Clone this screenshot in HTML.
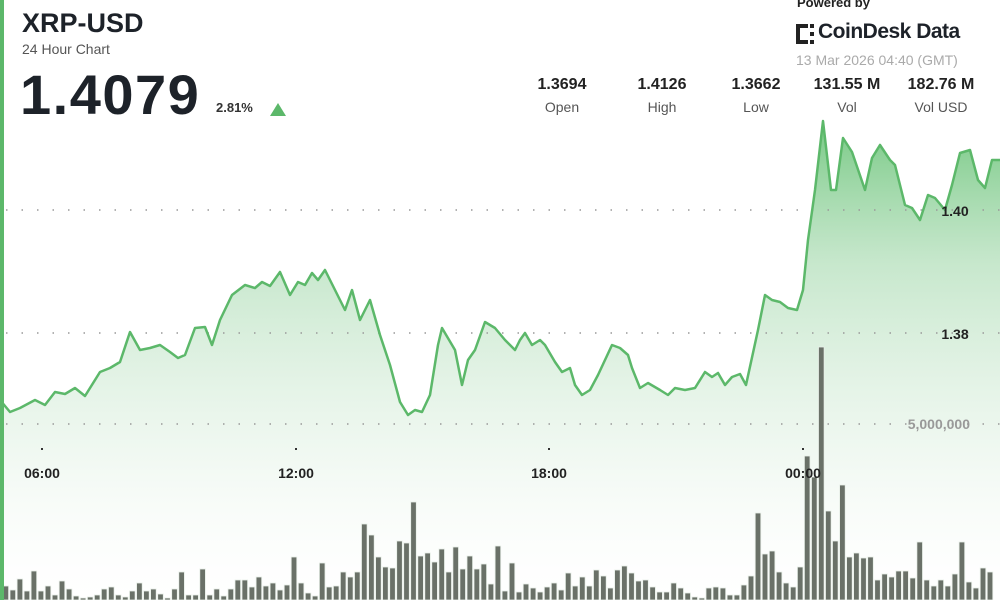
<!DOCTYPE html>
<html><head><meta charset="utf-8"><style>
body{margin:0;width:1000px;height:600px;overflow:hidden;background:#fff;font-family:"Liberation Sans",sans-serif;}
svg{position:absolute;left:0;top:0}
.t{position:absolute;white-space:nowrap}
</style></head><body>
<svg width="1000" height="600" viewBox="0 0 1000 600">
<defs>
<linearGradient id="g" x1="0" y1="120" x2="0" y2="600" gradientUnits="userSpaceOnUse">
<stop offset="0" stop-color="#5fbf6e" stop-opacity="0.85"/>
<stop offset="0.3" stop-color="#8fd09a" stop-opacity="0.5"/>
<stop offset="0.7" stop-color="#cfe9d3" stop-opacity="0.3"/>
<stop offset="1" stop-color="#ffffff" stop-opacity="0.1"/>
</linearGradient>
</defs>
<path id="area" fill="url(#g)" d=""/>
<g stroke="#999" stroke-width="1.5" stroke-dasharray="1.5 14" >
<line x1="6" y1="210" x2="1000" y2="210"/>
<line x1="6" y1="333" x2="1000" y2="333"/>
<line x1="6" y1="424" x2="1000" y2="424"/>
</g>
<g fill="#333"><rect x="41" y="448" width="2" height="2"/><rect x="295" y="448" width="2" height="2"/><rect x="548" y="448" width="2" height="2"/><rect x="802" y="448" width="2" height="2"/></g>
<g id="bars" fill="#6a7168" stroke="#e8efe8" stroke-width="0.8"></g>
<path id="line" fill="none" stroke="#5cb86a" stroke-width="2.5" stroke-linejoin="round" d=""/>
<rect x="0" y="0" width="4" height="600" fill="#5cb86a"/>
<g font-family="Liberation Sans" font-weight="bold" font-size="14" fill="#222" text-anchor="middle">
<text x="42" y="478">06:00</text><text x="296" y="478">12:00</text><text x="549" y="478">18:00</text><text x="803" y="478">00:00</text>
<text x="955" y="216">1.40</text><text x="955" y="339">1.38</text>
</g>
<text x="970" y="429" font-family="Liberation Sans" font-weight="bold" font-size="14" fill="#999" text-anchor="end">5,000,000</text>
</svg>
<div class="t" style="left:22px;top:8px;font-size:27px;font-weight:bold;color:#1d2229">XRP-USD</div>
<div class="t" style="left:22px;top:41px;font-size:14px;color:#555">24 Hour Chart</div>
<div class="t" style="left:20px;top:62px;font-size:56px;font-weight:bold;color:#1d2229;letter-spacing:1.5px">1.4079</div>
<div class="t" style="left:216px;top:100px;font-size:13px;font-weight:bold;color:#333">2.81%</div>
<svg width="1000" height="600" style="pointer-events:none"><polygon points="270,116 286,116 278,103" fill="#5cb86a"/>
<g fill="#222"><rect x="796" y="24" width="4" height="20"/><rect x="800" y="24" width="8" height="4"/><rect x="800" y="40" width="8" height="4"/><rect x="810" y="24" width="4" height="4"/><rect x="810" y="40" width="4" height="4"/><rect x="810" y="32" width="4" height="4"/></g></svg>
<div class="t" style="left:797px;top:-5px;font-size:13px;font-weight:bold;color:#222">Powered by</div>
<div class="t" style="left:818px;top:20px;font-size:21px;font-weight:bold;color:#1d2229;letter-spacing:-0.5px">CoinDesk Data</div>
<div class="t" style="left:796px;top:52px;font-size:14px;color:#aaa">13 Mar 2026 04:40 (GMT)</div>
<div class="t" style="left:522px;top:76px;width:80px;text-align:center;font-size:16px;font-weight:bold;color:#222">1.3694</div>
<div class="t" style="left:522px;top:99px;width:80px;text-align:center;font-size:14px;color:#555">Open</div>
<div class="t" style="left:622px;top:76px;width:80px;text-align:center;font-size:16px;font-weight:bold;color:#222">1.4126</div>
<div class="t" style="left:622px;top:99px;width:80px;text-align:center;font-size:14px;color:#555">High</div>
<div class="t" style="left:716px;top:76px;width:80px;text-align:center;font-size:16px;font-weight:bold;color:#222">1.3662</div>
<div class="t" style="left:716px;top:99px;width:80px;text-align:center;font-size:14px;color:#555">Low</div>
<div class="t" style="left:797px;top:76px;width:100px;text-align:center;font-size:16px;font-weight:bold;color:#222">131.55 M</div>
<div class="t" style="left:797px;top:99px;width:100px;text-align:center;font-size:14px;color:#555">Vol</div>
<div class="t" style="left:891px;top:76px;width:100px;text-align:center;font-size:16px;font-weight:bold;color:#222">182.76 M</div>
<div class="t" style="left:891px;top:99px;width:100px;text-align:center;font-size:14px;color:#555">Vol USD</div>
<script>
var P=[[0,400],[10,412],[20,408],[35,400],[45,405],[55,392],[65,394],[75,388],[85,396],[100,372],[110,368],[120,362],[130,332],[140,350],[150,348],[160,345],[170,352],[178,358],[185,355],[195,328],[205,327],[212,345],[220,320],[232,295],[245,285],[255,288],[262,282],[270,286],[280,272],[290,295],[298,282],[305,285],[312,273],[318,280],[325,270],[335,290],[345,310],[352,290],[360,320],[370,300],[380,335],[390,365],[400,402],[408,415],[415,410],[422,412],[430,395],[438,345],[442,328],[455,350],[462,385],[468,360],[475,350],[485,322],[495,328],[505,340],[515,350],[520,340],[525,333],[532,345],[540,340],[545,345],[555,362],[562,372],[570,368],[575,385],[582,395],[590,390],[598,375],[605,360],[612,345],[620,348],[628,355],[632,368],[640,388],[648,383],[660,390],[668,395],[675,388],[685,390],[695,388],[705,372],[712,377],[718,373],[725,385],[732,377],[740,374],[746,385],[758,330],[765,295],[772,300],[780,302],[788,308],[797,310],[803,290],[808,240],[815,190],[823,121],[831,190],[836,190],[843,138],[852,152],[865,190],[872,158],[880,145],[890,160],[895,165],[905,205],[912,208],[920,220],[928,195],[935,198],[945,210],[952,185],[960,153],[970,150],[978,180],[985,188],[992,160],[1000,160]];
var d=P.map(function(p,i){return (i?'L':'M')+p[0]+','+p[1]}).join('');
document.getElementById('line').setAttribute('d',d);
document.getElementById('area').setAttribute('d',d+'L1000,600L0,600Z');
var H=[14,10,21,9,29,9,14,5,19,11,4,2,3,5,11,13,5,3,9,17,9,11,6,2,11,28,5,5,31,5,11,4,11,20,20,13,23,14,17,10,15,43,17,7,4,37,13,14,28,23,28,76,65,43,33,32,59,57,98,44,47,38,51,28,53,31,44,31,36,16,54,9,
37,8,16,12,8,13,17,10,27,14,23,14,30,24,12,30,34,27,19,20,13,8,8,17,12,7,3,2,12,13,12,5,5,15,24,
87,46,49,28,17,13,33,144,123,253,89,59,115,43,47,42,43,20,26,23,29,29,22,58,20,14,20,14,26,58,18,12,32,28];
var s='';for(var i=0;i<H.length;i++){var x=3+i*7.03;s+='<rect x="'+x.toFixed(1)+'" y="'+(600-H[i])+'" width="5.6" height="'+H[i]+'"/>';}
document.getElementById('bars').innerHTML=s;
</script>
</body></html>
